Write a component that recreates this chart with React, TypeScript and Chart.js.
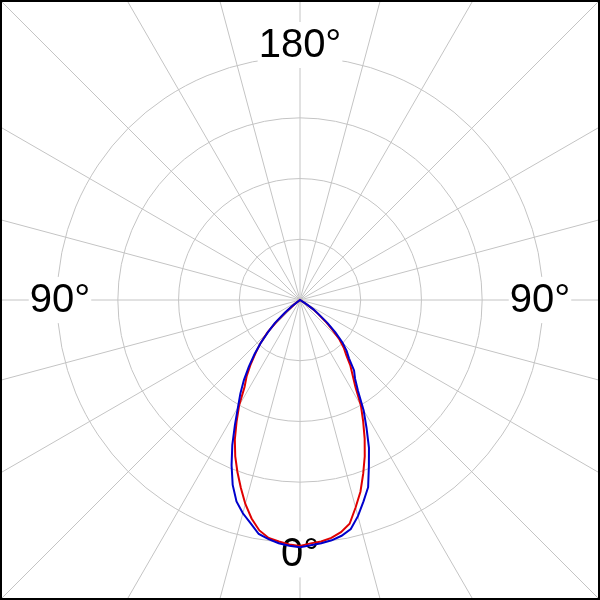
import { useEffect, useRef } from "react";
import { Chart, registerables } from "chart.js";

Chart.register(...registerables);

// gamma angles (degrees from nadir) at which the intensities were read
const gammaDeg = [
  0, 2.5, 5, 7.5, 10, 12.5, 15, 17.5, 20, 22.5, 25, 27.5, 30, 32.5, 35, 37.5, 40, 42.5, 45, 47.5,
  50, 52.5, 55, 57.5, 60,
];
// luminous intensity, left half-plane and right half-plane
const blueLeft = [
  412, 410, 407, 402, 396, 381, 368, 352, 328, 298, 267, 235, 207, 185, 163, 140, 118, 97, 75, 57,
  33, 17, 0, 0, 0,
];
const blueRight = [
  410, 409, 407, 404, 399, 391, 373, 352, 332, 300, 272, 240, 212, 180, 160, 148, 127, 115, 100, 80,
  60, 40, 28, 12, 0,
];
const redLeft = [
  410, 408, 404, 400, 390, 373, 352, 328, 305, 282, 257, 229, 203, 172, 155, 135, 115, 97, 77, 52,
  27, 12, 0, 0, 0,
];
const redRight = [
  408, 406, 404, 400, 393, 382, 358, 335, 308, 282, 255, 228, 203, 172, 153, 138, 120, 108, 93, 73,
  55, 38, 25, 10, 0,
];

// polar grid
const angleStep = 2.5; // degrees between radar spokes
const spokeEvery = 15; // visible spoke every 15 degrees
const ringStep = 100;
const ringMaxVisible = 500;
const scaleMax = 708.333;

// direction labels
const dirLabels = ["0°", "90°", "180°", "90°"];
const dirAngles = [0, 90, 180, 270]; // clockwise from bottom
const dirRadius = [424, 400, 425, 400];

const nSpokes = Math.round(360 / angleStep);
const spokeLabels = Array.from({ length: nSpokes }, (_, i) => String(i * angleStep));

function buildSeries(left: number[], right: number[]): number[] {
  const out: number[] = [];
  for (let i = 0; i < nSpokes; i++) {
    const a = i * angleStep;
    const g = a <= 180 ? a : 360 - a;
    const src = a <= 180 ? left : right;
    const k = gammaDeg.indexOf(g);
    out.push(k >= 0 ? src[k] : 0);
  }
  return out;
}

const labelPlugin = {
  id: "dirLabels",
  beforeDatasetsDraw(chart: any) {
    const scale = chart.scales.r;
    const ctx = chart.ctx;
    ctx.save();
    ctx.font = '40px "Liberation Sans", Arial, sans-serif';
    ctx.textAlign = "center";
    ctx.textBaseline = "middle";
    dirLabels.forEach((txt, i) => {
      const idx = dirAngles[i] / angleStep;
      const p = scale.getPointPositionForValue(idx, dirRadius[i]);
      const w = ctx.measureText(txt).width;
      ctx.fillStyle = "#ffffff";
      ctx.fillRect(p.x - w / 2 - 1, p.y - 23, w + 2, 46);
      ctx.fillStyle = "#000000";
      ctx.fillText(txt, p.x, p.y + 1);
    });
    ctx.restore();
  },
};

export default function App() {
  const ref = useRef<HTMLCanvasElement | null>(null);
  useEffect(() => {
    if (!ref.current) return;
    const chart = new Chart(ref.current, {
      type: "radar",
      data: {
        labels: spokeLabels,
        datasets: [
          {
            label: "blue",
            data: buildSeries(blueLeft, blueRight),
            borderColor: "#0000cc",
            borderWidth: 2,
            pointRadius: 0,
            fill: false,
            tension: 0,
          },
          {
            label: "red",
            data: buildSeries(redLeft, redRight),
            borderColor: "#e00000",
            borderWidth: 2,
            pointRadius: 0,
            fill: false,
            tension: 0,
          },
        ],
      },
      options: {
        animation: false,
        responsive: false,
        devicePixelRatio: 1,
        layout: { padding: 0 },
        plugins: { legend: { display: false }, tooltip: { enabled: false } },
        scales: {
          r: {
            min: 0,
            max: scaleMax,
            startAngle: 180,
            ticks: { display: false, stepSize: ringStep },
            pointLabels: { display: false },
            grid: {
              circular: true,
              color: (c: any) =>
                c.tick && c.tick.value <= ringMaxVisible ? "#c4c4c4" : "rgba(0,0,0,0)",
              lineWidth: 1,
            },
            angleLines: {
              display: true,
              color: "#c4c4c4",
              lineWidth: (c: any) => ((c.index * angleStep) % spokeEvery === 0 ? 1 : 0),
            },
          },
        },
      },
      plugins: [labelPlugin],
    });
    return () => chart.destroy();
  }, []);

  return (
    <div
      style={{
        position: "fixed",
        left: 0,
        top: 0,
        width: 600,
        height: 600,
        boxSizing: "border-box",
        border: "2px solid #000",
        overflow: "hidden",
        background: "#fff",
      }}
    >
      <canvas
        ref={ref}
        width={850}
        height={850}
        style={{ position: "absolute", left: -127, top: -127, width: 850, height: 850 }}
      />
    </div>
  );
}
